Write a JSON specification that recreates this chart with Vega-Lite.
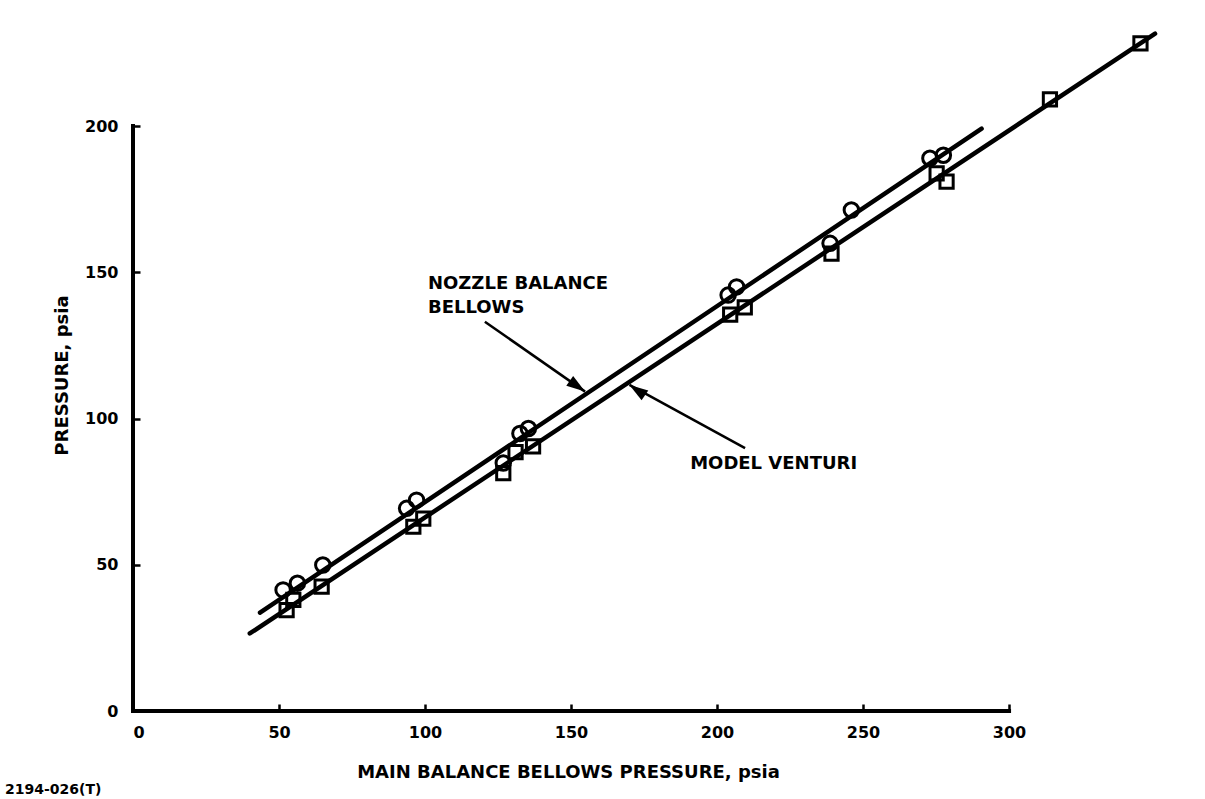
{
  "$schema": "https://vega.github.io/schema/vega-lite/v6.json",
  "autosize": {"type": "none"},
  "width": 1072,
  "height": 711,
  "padding": {"left": 133, "top": 0, "right": 0, "bottom": 88},
  "background": "white",
  "config": {
    "view": {"stroke": null},
    "font": "DejaVu Sans",
    "axis": {"grid": false, "domain": false, "labelFont": "DejaVu Sans", "labelFontWeight": "bold", "labelFontSize": 16, "labelColor": "black", "tickColor": "black", "tickWidth": 2.5, "tickSize": -7, "titleFont": "DejaVu Sans", "titleFontWeight": "bold", "titleFontSize": 18, "titleColor": "black"}
  },
  "title": {"text": "2194-026(T)", "orient": "bottom", "anchor": "start", "frame": "group", "dx": -128, "offset": 2, "font": "DejaVu Sans", "fontSize": 14, "fontWeight": "bold", "color": "black"},
  "datasets": {
    "points": [
      {"s": "nozzle", "x": 51.4, "y": 41.4},
      {"s": "nozzle", "x": 56.3, "y": 43.7},
      {"s": "nozzle", "x": 65.0, "y": 49.9},
      {"s": "nozzle", "x": 93.7, "y": 69.3},
      {"s": "nozzle", "x": 97.1, "y": 72.1},
      {"s": "nozzle", "x": 126.8, "y": 84.8},
      {"s": "nozzle", "x": 132.5, "y": 94.9},
      {"s": "nozzle", "x": 135.4, "y": 96.6},
      {"s": "nozzle", "x": 203.8, "y": 142.2},
      {"s": "nozzle", "x": 206.7, "y": 145.0},
      {"s": "nozzle", "x": 238.7, "y": 159.9},
      {"s": "nozzle", "x": 246.0, "y": 171.3},
      {"s": "nozzle", "x": 272.9, "y": 189.0},
      {"s": "nozzle", "x": 277.5, "y": 190.0},
      {"s": "venturi", "x": 52.6, "y": 34.5},
      {"s": "venturi", "x": 54.9, "y": 38.0},
      {"s": "venturi", "x": 64.6, "y": 42.5},
      {"s": "venturi", "x": 96.0, "y": 63.0},
      {"s": "venturi", "x": 99.4, "y": 65.8},
      {"s": "venturi", "x": 126.8, "y": 81.3},
      {"s": "venturi", "x": 131.0, "y": 88.5},
      {"s": "venturi", "x": 137.0, "y": 90.5},
      {"s": "venturi", "x": 204.5, "y": 135.5},
      {"s": "venturi", "x": 209.5, "y": 138.0},
      {"s": "venturi", "x": 239.2, "y": 156.4},
      {"s": "venturi", "x": 275.2, "y": 183.8},
      {"s": "venturi", "x": 278.6, "y": 181.0},
      {"s": "venturi", "x": 314.0, "y": 209.1},
      {"s": "venturi", "x": 345.0, "y": 228.3}
    ],
    "lines": [
      {"s": "nozzle", "x": 43.5, "y": 33.6},
      {"s": "nozzle", "x": 290.6, "y": 199.1},
      {"s": "venturi", "x": 40.0, "y": 26.5},
      {"s": "venturi", "x": 350.0, "y": 231.6}
    ],
    "axes": [
      {"x": 0, "x2": 300, "y": 0, "y2": 0},
      {"x": 0, "x2": 0, "y": 0, "y2": 200}
    ],
    "arrows": [
      {"a": "nozzle", "x": 120.5, "y": 133.1, "x2": 154.8, "y2": 109.2, "angle": 35},
      {"a": "venturi", "x": 209.6, "y": 89.9, "x2": 170.0, "y2": 111.5, "angle": 214}
    ],
    "labels": [
      {"t": "NOZZLE BALANCE", "x": 101.0, "y": 144.3},
      {"t": "BELLOWS", "x": 101.0, "y": 136.1},
      {"t": "MODEL VENTURI", "x": 190.8, "y": 82.7}
    ]
  },
  "layer": [
    {
      "data": {"name": "axes"},
      "mark": {"type": "rule", "color": "black", "strokeWidth": 4, "strokeCap": "square"},
      "encoding": {
        "x": {"field": "x", "type": "quantitative", "scale": {"domain": [0, 367.1], "nice": false, "zero": false},
              "axis": {"values": [0, 50, 100, 150, 200, 250, 300], "labelPadding": 20, "title": "MAIN BALANCE BELLOWS PRESSURE, psia", "titleX": 435, "titleY": 66, "titleAlign": "center", "titleBaseline": "alphabetic"}},
        "x2": {"field": "x2"},
        "y": {"field": "y", "type": "quantitative", "scale": {"domain": [0, 243.1], "nice": false, "zero": false},
              "axis": {"values": [0, 50, 100, 150, 200], "labelPadding": 22, "title": "PRESSURE, psia", "titleX": -71, "titleY": 375, "titleAngle": -90, "titleAlign": "center", "titleBaseline": "middle"}},
        "y2": {"field": "y2"}
      }
    },
    {
      "data": {"name": "lines"},
      "mark": {"type": "line", "color": "black", "strokeWidth": 4.5, "strokeCap": "round"},
      "encoding": {
        "x": {"field": "x", "type": "quantitative"},
        "y": {"field": "y", "type": "quantitative"},
        "detail": {"field": "s"}
      }
    },
    {
      "data": {"name": "points"},
      "transform": [{"filter": "datum.s === 'nozzle'"}],
      "mark": {"type": "point", "shape": "circle", "filled": false, "stroke": "black", "strokeWidth": 3, "size": 210, "opacity": 1},
      "encoding": {
        "x": {"field": "x", "type": "quantitative"},
        "y": {"field": "y", "type": "quantitative"}
      }
    },
    {
      "data": {"name": "points"},
      "transform": [{"filter": "datum.s === 'venturi'"}],
      "mark": {"type": "point", "shape": "square", "filled": false, "stroke": "black", "strokeWidth": 3, "size": 175, "opacity": 1},
      "encoding": {
        "x": {"field": "x", "type": "quantitative"},
        "y": {"field": "y", "type": "quantitative"}
      }
    },
    {
      "data": {"name": "arrows"},
      "mark": {"type": "rule", "color": "black", "strokeWidth": 2.5},
      "encoding": {
        "x": {"field": "x", "type": "quantitative"},
        "y": {"field": "y", "type": "quantitative"},
        "x2": {"field": "x2"},
        "y2": {"field": "y2"}
      }
    },
    {
      "data": {"name": "arrows"},
      "mark": {"type": "point", "shape": "M 0 0 L -1 -0.32 L -1 0.32 Z", "filled": true, "color": "black", "size": 1400, "opacity": 1},
      "encoding": {
        "x": {"field": "x2", "type": "quantitative"},
        "y": {"field": "y2", "type": "quantitative"},
        "angle": {"field": "angle", "type": "quantitative", "scale": null}
      }
    },
    {
      "data": {"name": "labels"},
      "mark": {"type": "text", "align": "left", "baseline": "alphabetic", "font": "DejaVu Sans", "fontWeight": "bold", "fontSize": 18, "color": "black"},
      "encoding": {
        "x": {"field": "x", "type": "quantitative"},
        "y": {"field": "y", "type": "quantitative"},
        "text": {"field": "t"}
      }
    }
  ]
}
